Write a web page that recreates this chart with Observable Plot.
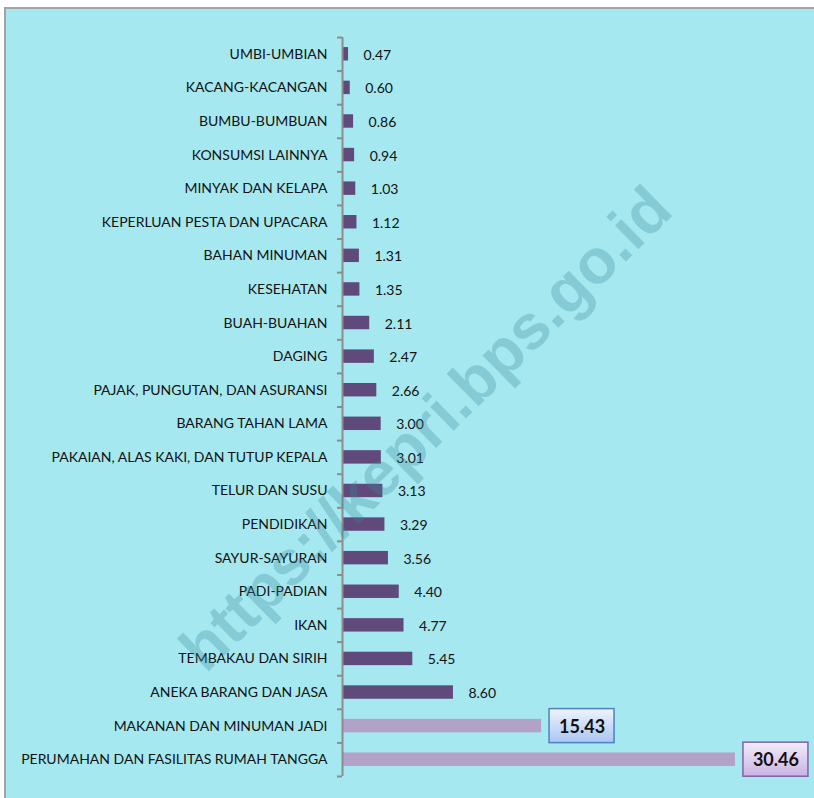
<!DOCTYPE html>
<html><head><meta charset="utf-8">
<script src="https://cdn.jsdelivr.net/npm/d3@7"></script>
<script src="https://cdn.jsdelivr.net/npm/@observablehq/plot@0.6"></script>
<style>
html,body{margin:0;padding:0;background:#fff;overflow:hidden;width:814px;height:798px}
#panel{position:absolute;left:4px;top:7px;width:860px;height:860px;background:#a6e8f0;border:2px solid #a3a3a3;box-sizing:border-box}
#chart{position:absolute;left:0;top:0}
#wm{position:absolute;left:425px;top:428px;transform:translate(-50%,-50%) rotate(-44.5deg);white-space:nowrap;font:bold 63px "Liberation Sans",Arial,sans-serif;color:rgba(55,135,155,0.30);pointer-events:none}
</style></head><body>
<div id="panel"></div>
<div id="chart"></div>
<div id="wm">https://kepri.bps.go.id</div>
<script>
const categories = [
  "UMBI-UMBIAN","KACANG-KACANGAN","BUMBU-BUMBUAN","KONSUMSI LAINNYA","MINYAK DAN KELAPA",
  "KEPERLUAN PESTA DAN UPACARA","BAHAN MINUMAN","KESEHATAN","BUAH-BUAHAN","DAGING",
  "PAJAK, PUNGUTAN, DAN ASURANSI","BARANG TAHAN LAMA","PAKAIAN, ALAS KAKI, DAN TUTUP KEPALA",
  "TELUR DAN SUSU","PENDIDIKAN","SAYUR-SAYURAN","PADI-PADIAN","IKAN","TEMBAKAU DAN SIRIH",
  "ANEKA BARANG DAN JASA","MAKANAN DAN MINUMAN JADI","PERUMAHAN DAN FASILITAS RUMAH TANGGA"
];
const values = [0.47,0.60,0.86,0.94,1.03,1.12,1.31,1.35,2.11,2.47,2.66,3.00,3.01,3.13,3.29,3.56,4.40,4.77,5.45,8.60,15.43,30.46];

const data = categories.map((c,i)=>({category:c, value:values[i]}));
const maxV = d3.max(values);
const threshold = values.slice().sort((a,b)=>b-a)[1];
const isHi = d => d.value >= threshold;
const lo = data.filter(d => !isHi(d));
const hiBlue = data.filter(d => isHi(d) && d.value !== maxV);
const hiPurple = data.filter(d => d.value === maxV);

const DARK = "#604a7b", LIGHT = "#b3a2c7", AXIS = "#8c8c8c";
const step = (776 - 37) / categories.length;

const defs = () => {
  const g = d3.create("svg:g");
  const df = g.append("defs");
  const g1 = df.append("linearGradient").attr("id","gBlue").attr("x1",0).attr("y1",0).attr("x2",0).attr("y2",1);
  g1.append("stop").attr("offset","0%").attr("stop-color","#eef4fd");
  g1.append("stop").attr("offset","100%").attr("stop-color","#a9c6f3");
  const g2 = df.append("linearGradient").attr("id","gPurple").attr("x1",0).attr("y1",0).attr("x2",0).attr("y2",1);
  g2.append("stop").attr("offset","0%").attr("stop-color","#f3ecfa");
  g2.append("stop").attr("offset","100%").attr("stop-color","#c9b3e4");
  const f = df.append("filter").attr("id","shadow").attr("x","-20%").attr("y","-20%").attr("width","150%").attr("height","160%");
  f.append("feDropShadow").attr("dx",2).attr("dy",2.5).attr("stdDeviation",1.5).attr("flood-color","#000").attr("flood-opacity",0.35);
  return g.node();
};

const boxOpts = {y: "category", x1: "value", x2: "value", insetLeft: 8, insetRight: -73, insetTop: -10.3, insetBottom: -10.3, strokeWidth: 1.5, ariaLabel: "label-box"};

const chart = Plot.plot({
  width: 814,
  height: 798,
  marginLeft: 342,
  marginRight: 8,
  marginTop: 37,
  marginBottom: 22,
  style: {background: "transparent", fontFamily: "Lato, 'Open Sans', sans-serif", fontSize: "14px", color: "#111"},
  x: {domain: [0, 36], range: [342, 342 + 36 * 12.9], axis: null},
  y: {domain: categories, paddingInner: 0.6, paddingOuter: 0.3, round: false, axis: null},
  marks: [
    defs,
    Plot.barX(data, {y: "category", x: "value", fill: d => isHi(d) ? LIGHT : DARK, insetLeft: 1}),
    Plot.ruleX([0], {stroke: AXIS, strokeWidth: 2}),
    Plot.ruleY(categories, {y: d => d, dy: -step / 2, x1: 0, x2: 0, insetLeft: -5, stroke: AXIS, strokeWidth: 2}),
    Plot.ruleY(categories.slice(-1), {y: d => d, dy: step / 2, x1: 0, x2: 0, insetLeft: -5, stroke: AXIS, strokeWidth: 2}),
    Plot.axisY({tickSize: 0, tickPadding: 15, fontSize: 14, fill: "#111", label: null}),
    Plot.text(lo, {y: "category", x: "value", text: d => d.value.toFixed(2), textAnchor: "start", dx: 15, dy: 1, fontSize: 14, fill: "#111"}),
    Plot.barX(hiBlue, {...boxOpts, fill: "url(#gBlue)", stroke: "#4f81bd"}),
    Plot.barX(hiPurple, {...boxOpts, fill: "url(#gPurple)", stroke: "#8064a2"}),
    Plot.text([...hiBlue, ...hiPurple], {y: "category", x: "value", text: d => d.value.toFixed(2), dx: 40.5, dy: 1, fontSize: 18, fontWeight: "bold", fill: "#111"})
  ]
});
d3.select(chart).selectAll("g[aria-label='label-box']").attr("filter", "url(#shadow)");
document.getElementById("chart").appendChild(chart);
</script>
</body></html>
